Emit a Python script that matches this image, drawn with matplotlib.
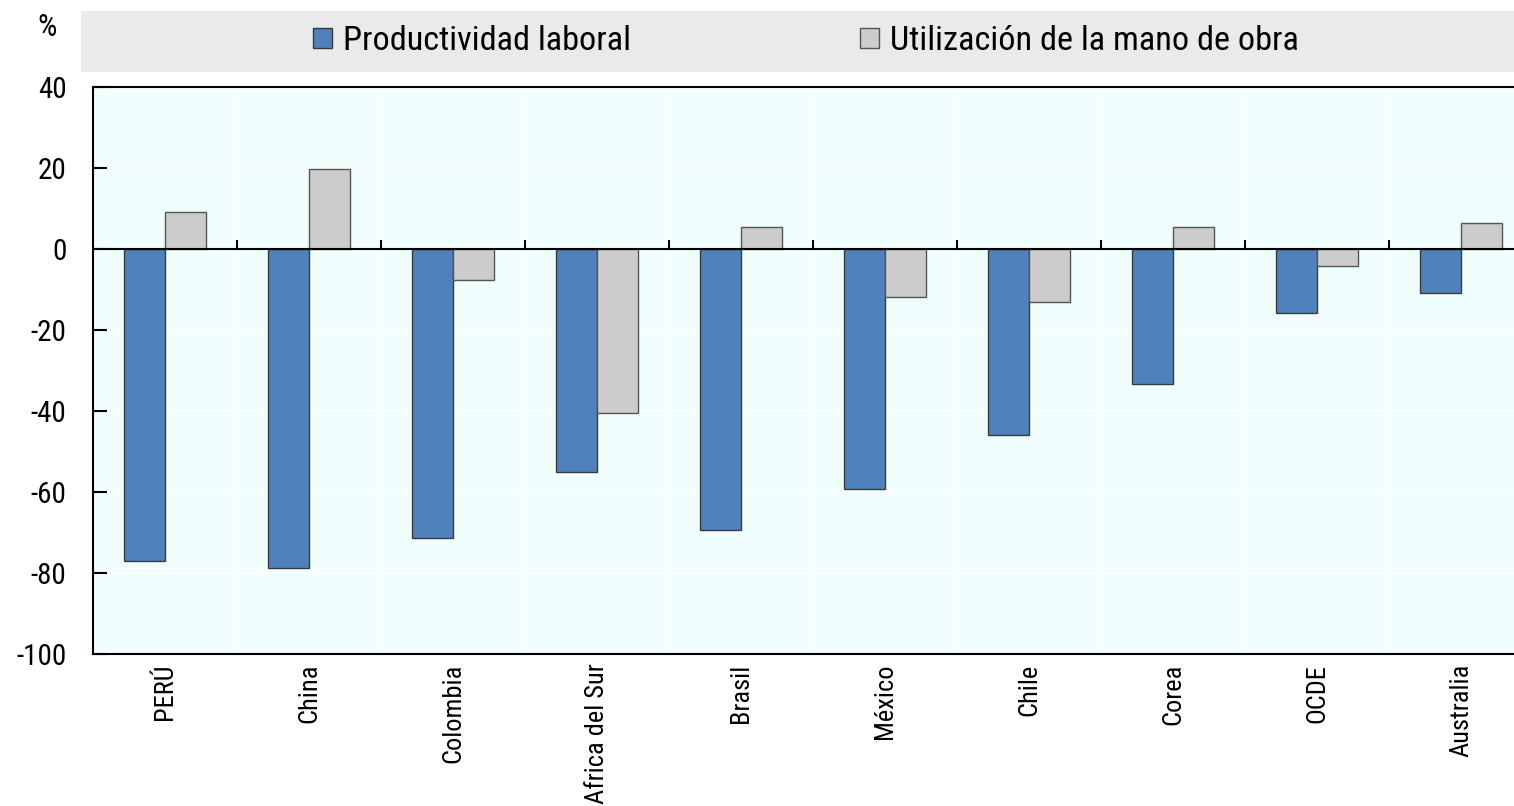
import numpy as np
import matplotlib
matplotlib.use("Agg")
import matplotlib.pyplot as plt
from matplotlib.patches import Patch, Rectangle

plt.rcParams['font.family'] = ['Roboto Condensed', 'DejaVu Sans']

paises = ["PERÚ", "China", "Colombia", "Africa del Sur", "Brasil",
          "México", "Chile", "Corea", "OCDE", "Australia"]
productividad = [-77.0, -78.8, -71.4, -55.0, -69.4, -59.3, -45.9, -33.3, -15.8, -10.9]
utilizacion = [9.1, 19.7, -7.7, -40.5, 5.4, -11.9, -13.1, 5.4, -4.2, 6.4]
y_ticks = [40, 20, 0, -20, -40, -60, -80, -100]

W, H = 1514, 806
fig = plt.figure(figsize=(W / 100, H / 100), dpi=100)
ax = fig.add_axes([93 / W, (H - 654) / H, (1533 - 93) / W, (654 - 87) / H])
ax.set_facecolor("#F0FEFE")

x = np.arange(len(paises))
w = 0.285
ax.bar(x - w / 2, productividad, w, color="#4F81BD", edgecolor="#3a3a3a", linewidth=1, zorder=3)
ax.bar(x + w / 2, utilizacion, w, color="#CCCCCC", edgecolor="#555555", linewidth=1, zorder=3)

ax.set_xlim(-0.5, len(paises) - 0.5)
ax.set_ylim(-100, 40)
ax.set_yticks(y_ticks)
ax.set_yticklabels([str(v) for v in y_ticks], fontsize=21)
ax.set_xticks(x)
ax.set_xticklabels(paises, rotation=90, fontsize=19)
ax.tick_params(axis="x", length=0, pad=7)
ax.tick_params(axis="y", direction="in", length=10, width=1.5, pad=19)

# faint white grid
bounds = np.arange(len(paises) + 1) - 0.5
ax.set_xticks(bounds, minor=True)
ax.tick_params(axis="x", which="minor", length=0)
ax.grid(axis="y", color="white", linewidth=1.2, zorder=0)
ax.grid(axis="x", which="minor", color="white", linewidth=1.2, zorder=0)

ax.axhline(0, color="black", linewidth=1.5, zorder=4)
ax.vlines(bounds[1:-1], 0, 2.1, color="black", linewidth=1.5, zorder=4)

for s in ax.spines.values():
    s.set_linewidth(1.5)
    s.set_color("black")

# legend band
fig.patches.append(Rectangle((81 / W, (H - 72) / H), (W - 81) / W, 61 / H,
                             transform=fig.transFigure, facecolor="#EAEAEA",
                             edgecolor="none", zorder=0))
handles = [Patch(facecolor="#4F81BD", edgecolor="#3a3a3a", label="Productividad laboral"),
           Patch(facecolor="#CCCCCC", edgecolor="#555555", label="Utilización de la mano de obra")]
fig.legend(handles=handles, loc="center", bbox_to_anchor=(806 / W, (H - 41) / H),
           ncol=2, frameon=False, fontsize=24.7, handlelength=0.55, handleheight=0.55,
           handletextpad=0.3, columnspacing=6.7)

fig.text(47 / W, (H - 28) / H, "%", fontsize=22, ha="center", va="center")

fig.savefig("out.png", dpi=100)
